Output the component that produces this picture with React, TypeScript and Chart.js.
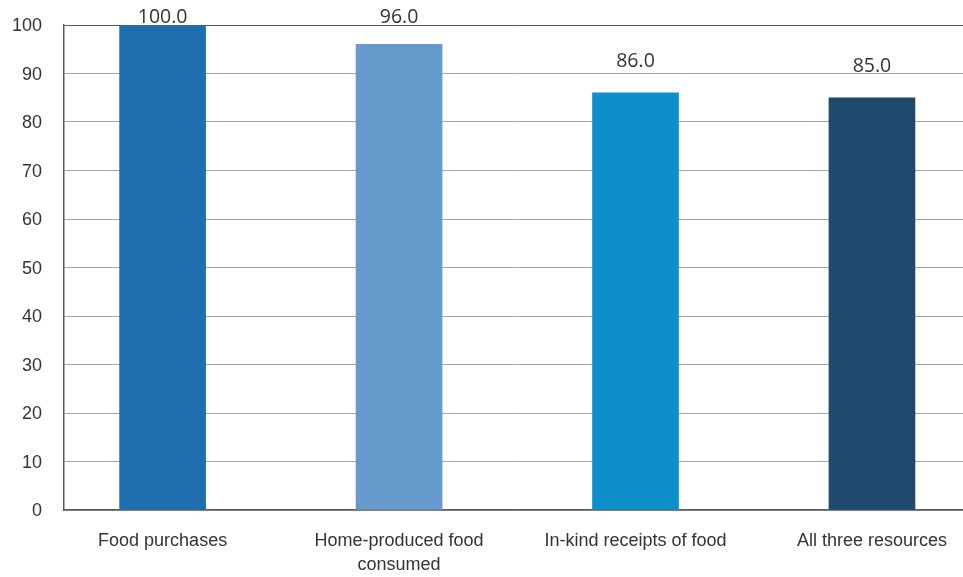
import React, { useEffect, useRef } from "react";
import { Chart, registerables } from "chart.js";

Chart.register(...registerables);

const CATEGORIES: string[][] = [
  ["Food purchases"],
  ["Home-produced food", "consumed"],
  ["In-kind receipts of food"],
  ["All three resources"],
];
const VALUES: number[] = [100.0, 96.0, 86.0, 85.0];
const BAR_COLORS: string[] = ["#1f6fb0", "#6699cc", "#0f8fc9", "#1f4a6e"];
const Y_TICKS: number[] = [0, 10, 20, 30, 40, 50, 60, 70, 80, 90, 100];

const valueLabels = {
  id: "valueLabels",
  afterDatasetsDraw(chart: any) {
    const ctx = chart.ctx;
    const meta = chart.getDatasetMeta(0);
    ctx.save();
    ctx.font = '19.5px "Open Sans"';
    ctx.fillStyle = "#333333";
    ctx.textAlign = "center";
    ctx.textBaseline = "middle";
    meta.data.forEach((bar: any, i: number) => {
      const y = Math.max(bar.y - 31, 17);
      ctx.fillText(VALUES[i].toFixed(1), bar.x, y);
    });
    ctx.restore();
  },
};

export default function App() {
  const ref = useRef<HTMLCanvasElement | null>(null);
  useEffect(() => {
    document.body.style.margin = "0";
    if (!ref.current) return;
    const chart = new Chart(ref.current, {
      type: "bar",
      data: {
        datasets: [
          {
            data: VALUES.map((v, i) => ({ x: i, y: v })),
            backgroundColor: BAR_COLORS,
            barThickness: 86,
          },
        ],
      },
      options: {
        animation: false,
        responsive: false,
        layout: { padding: { top: 25, left: 12, right: 0, bottom: 3 } },
        plugins: { legend: { display: false }, tooltip: { enabled: false } },
        scales: {
          x: {
            type: "linear",
            offset: false,
            min: -0.417,
            max: 3.385,
            afterBuildTicks: (scale: any) => {
              scale.ticks = CATEGORIES.map((_, i) => ({ value: i }));
            },
            afterFit: (scale: any) => {
              scale.height = 64;
              scale.paddingLeft = 0;
              scale.paddingRight = 0;
              scale.paddingTop = 0;
              scale.paddingBottom = 0;
            },
            grid: { display: false, drawTicks: false, offset: false },
            border: { display: true, color: "#595959", width: 1.5 },
            ticks: {
              autoSkip: false,
              maxRotation: 0,
              padding: 20,
              color: "#333333",
              font: { family: '"Liberation Sans", Arial', size: 18, lineHeight: 1.28 },
              callback: (value: any) => CATEGORIES[Math.round(Number(value))] ?? "",
            },
          },
          y: {
            min: 0,
            max: 100,
            afterBuildTicks: (scale: any) => {
              scale.ticks = Y_TICKS.map((v) => ({ value: v }));
            },
            afterFit: (scale: any) => {
              scale.width = 52;
              scale.paddingLeft = 0;
              scale.paddingRight = 0;
              scale.paddingTop = 0;
              scale.paddingBottom = 0;
            },
            grid: {
              drawTicks: false,
              color: (c: any) => (c.tick && c.tick.value === 100 ? "#595959" : "#a6a6a6"),
              lineWidth: 1,
            },
            border: { display: true, color: "#595959", width: 1.5 },
            ticks: {
              padding: 22,
              labelOffset: 1.5,
              color: "#333333",
              font: { family: '"Liberation Sans", Arial', size: 18 },
            },
          },
        },
      },
      plugins: [valueLabels],
    });
    return () => chart.destroy();
  }, []);
  return (
    <div style={{ width: 963, height: 577, background: "#ffffff" }}>
      <canvas ref={ref} width={963} height={577} />
    </div>
  );
}
